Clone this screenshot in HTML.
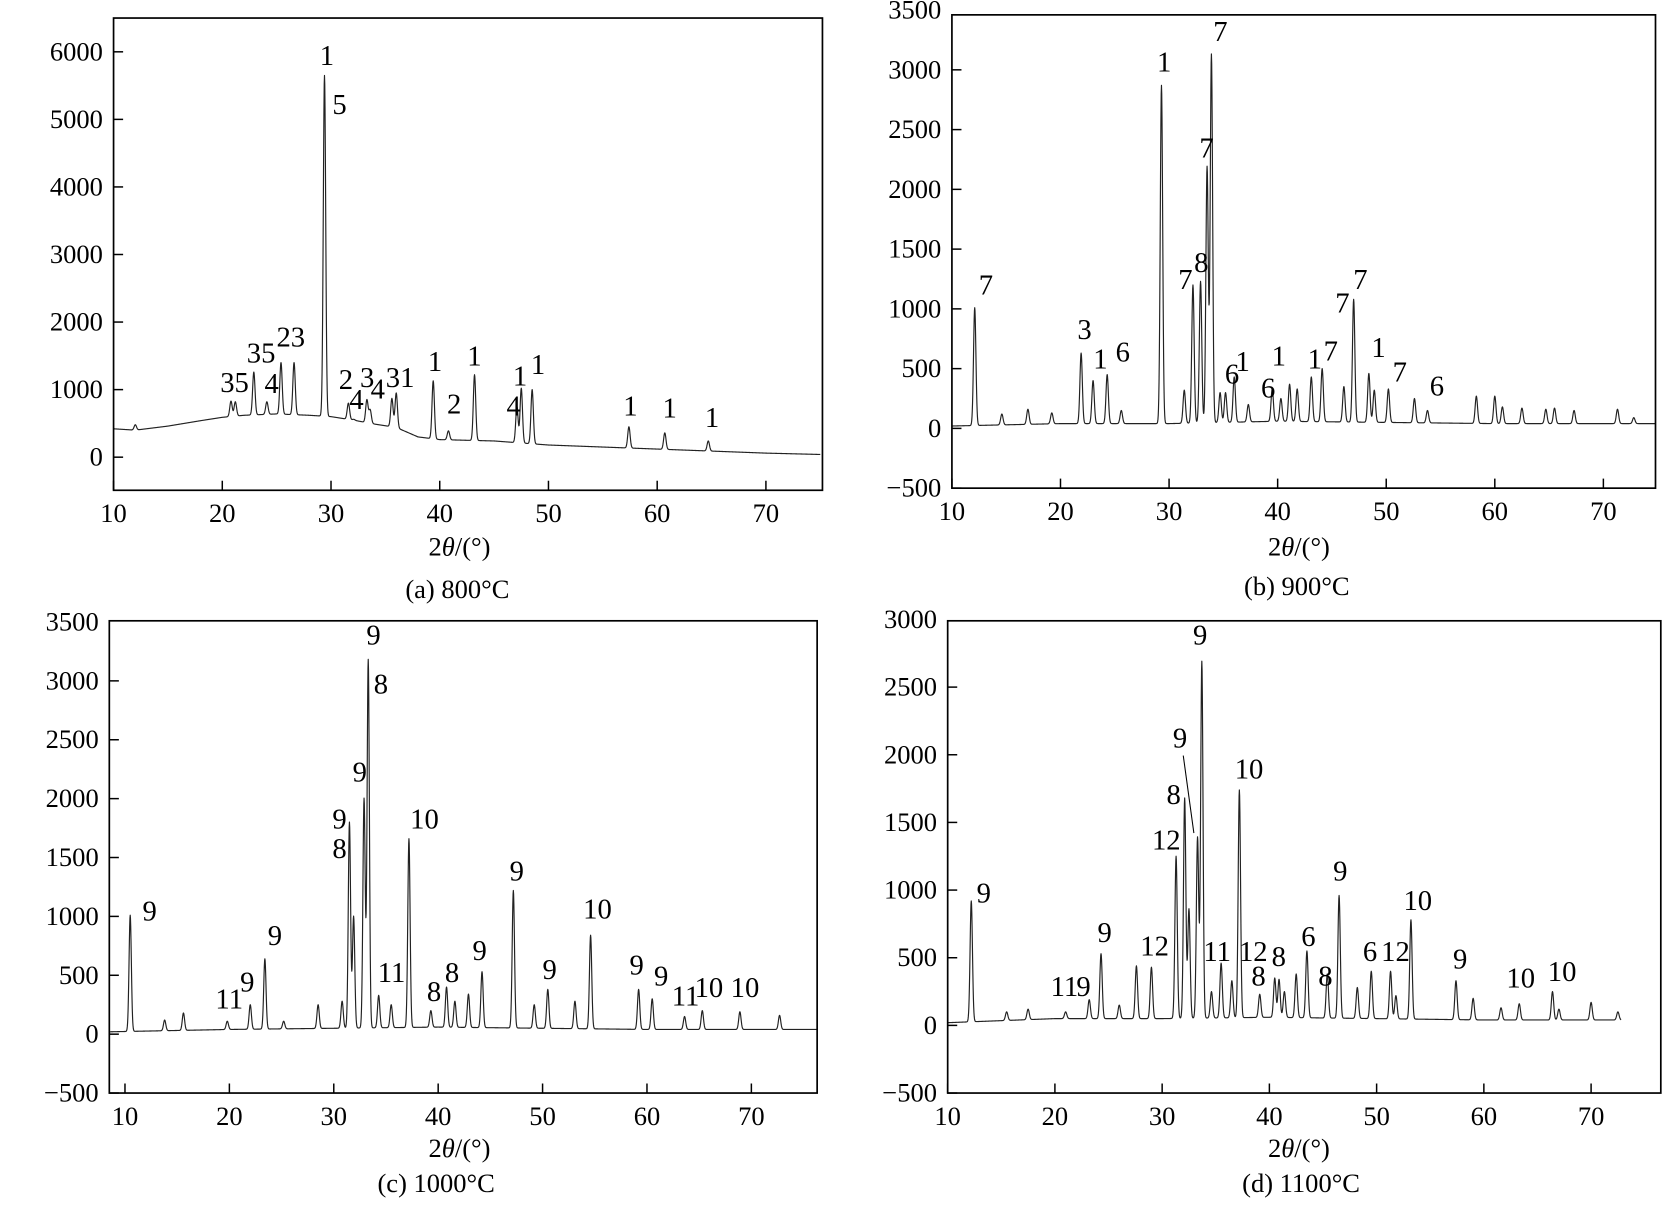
<!DOCTYPE html>
<html><head><meta charset="utf-8"><style>
html,body{margin:0;padding:0;background:#fff;}
svg{display:block;font-family:"Liberation Serif","Times New Roman",serif;}
svg text{font-family:"Liberation Serif","Times New Roman",serif;fill:#000;}
</style></head><body>
<svg id="fig" width="1664" height="1205" viewBox="0 0 1568 1135.5" font-family="Liberation Serif, serif" xmlns="http://www.w3.org/2000/svg"></svg>
<script>
// ---------- Panel (a) 800°C ----------
const aBaseX=[10,12,15,18,20,22,25,28,30,32,34,36,38,40,45,50,55,60,65,70,75];
const aBaseY=[420,400,460,540,590,620,640,620,600,550,490,440,300,260,240,180,150,120,90,60,40];
const aPeakX=[12.0,20.8,21.2,22.9,24.1,25.4,26.6,29.4,31.6,32.1,33.3,33.6,35.6,36.0,39.4,40.8,43.2,47.1,47.5,48.5,57.4,60.7,64.7];
const aPeakY=[480,830,820,1260,820,1400,1400,5650,800,560,850,700,870,950,1130,390,1220,750,1020,1000,450,360,240];
// ---------- Panel (b) 900°C ----------
const bBaseX=[10,20,30,40,50,60,75];
const bBaseY=[20,40,40,60,50,40,40];
const bPeakX=[12.1,14.6,17.0,19.2,21.9,23.0,24.3,25.6,29.3,31.4,32.2,32.9,33.5,33.9,34.7,35.2,36.0,37.3,39.5,40.3,41.1,41.8,43.1,44.1,46.1,47.0,48.4,48.9,50.2,52.6,53.8,58.3,60.0,60.7,62.5,64.7,65.5,67.3,71.3,72.8];
const bPeakY=[1010,120,160,130,630,400,450,150,2870,320,1200,1230,2190,3130,300,300,430,200,330,250,370,330,430,500,350,1080,460,320,330,250,150,270,270,180,170,160,170,150,160,90];
// ---------- Panel (c) 1000°C ----------
const cBaseX=[8.5,20,30,40,50,60,76];
const cBaseY=[20,40,50,60,50,40,40];
const cPeakX=[10.5,13.8,15.6,19.8,22.0,23.4,25.2,28.5,30.8,31.5,31.9,32.9,33.3,34.3,35.5,37.2,39.3,40.8,41.6,42.9,44.2,47.2,49.2,50.5,53.1,54.6,59.2,60.5,63.6,65.3,68.9,72.7];
const cPeakY=[1010,120,180,110,250,640,110,250,280,1800,1000,2000,3180,330,250,1660,200,400,280,340,530,1220,250,380,280,840,380,300,150,200,190,160];
// ---------- Panel (d) 1100°C ----------
const dBaseX=[10,20,30,40,50,60,72.8];
const dBaseY=[20,50,50,60,50,40,40];
const dPeakX=[12.2,15.5,17.5,21.0,23.2,24.3,26.0,27.6,29.0,31.3,32.1,32.5,33.3,33.7,34.6,35.5,36.5,37.2,39.1,40.5,40.9,41.4,42.5,43.5,45.4,46.5,48.2,49.5,51.3,51.8,53.2,57.4,59.0,61.6,63.3,66.4,67.0,70.0,72.5];
const dPeakY=[920,100,120,100,190,530,150,440,430,1250,1680,860,1390,2690,250,460,330,1740,230,350,340,250,380,550,380,960,280,400,400,220,780,330,200,130,160,250,120,170,100];
// tick labels
const aYTicks=[0,1000,2000,3000,4000,5000,6000];
const bYTicks=[-500,0,500,1000,1500,2000,2500,3000,3500];
const cYTicks=[-500,0,500,1000,1500,2000,2500,3000,3500];
const dYTicks=[-500,0,500,1000,1500,2000,2500,3000];
const xTicks=[10,20,30,40,50,60,70];

const NS="http://www.w3.org/2000/svg";
const svg=document.getElementById('fig');
const FF='"Liberation Serif", serif';
function mk(tag,attrs,parent){const e=document.createElementNS(NS,tag);for(const k in attrs)e.setAttribute(k,attrs[k]);(parent||svg).appendChild(e);return e;}
function interp(xs,ys,x){if(x<=xs[0])return ys[0];for(let i=1;i<xs.length;i++){if(x<=xs[i]){const t=(x-xs[i-1])/(xs[i]-xs[i-1]);return ys[i-1]+t*(ys[i]-ys[i-1]);}}return ys[ys.length-1];}

const panels=[
 {id:'a',L:107,R:775,T:17,B:462,x0:10,x1:75.2,y0:-490,y1:6500,dx0:10,dx1:75,bx:aBaseX,by:aBaseY,px:aPeakX,py:aPeakY,yt:aYTicks},
 {id:'b',L:897,R:1560,T:14,B:460,x0:10,x1:74.8,y0:-500,y1:3460,dx0:10,dx1:74.8,bx:bBaseX,by:bBaseY,px:bPeakX,py:bPeakY,yt:bYTicks},
 {id:'c',L:103,R:770,T:585,B:1030,x0:8.5,x1:76.3,y0:-500,y1:3510,dx0:8.5,dx1:76.3,bx:cBaseX,by:cBaseY,px:cPeakX,py:cPeakY,yt:cYTicks},
 {id:'d',L:893,R:1565,T:585,B:1030,x0:10,x1:76.5,y0:-500,y1:2990,dx0:10,dx1:72.8,bx:dBaseX,by:dBaseY,px:dPeakX,py:dPeakY,yt:dYTicks}
];

panels.forEach(p=>{
 const g=mk('g',{});
 
 
 const X=v=>p.L+(v-p.x0)/(p.x1-p.x0)*(p.R-p.L);
 const Y=v=>p.B-(v-p.y0)/(p.y1-p.y0)*(p.B-p.T);
 let d='';
 for(let x=p.dx0;x<=p.dx1+1e-9;x+=0.025){
   let y=interp(p.bx,p.by,x);
   for(let i=0;i<p.px.length;i++){
     const h=p.py[i]-interp(p.bx,p.by,p.px[i]);
     const w=0.11;
     y+=h*Math.exp(-((x-p.px[i])*(x-p.px[i]))/(2*w*w));
   }
   d+=(d?'L':'M')+X(x).toFixed(2)+','+Y(y).toFixed(2);
 }
 const path=mk('path',{d:d,fill:'none',stroke:'#222','stroke-width':1.1,'stroke-linejoin':'round'},g);
 
 
 const fr=mk('rect',{x:p.L,y:p.T,width:p.R-p.L,height:p.B-p.T,fill:'none',stroke:'#000','stroke-width':1.6},g);
 
 
 p.yt.forEach(v=>{
   const yy=Y(v);
   if(yy>p.T+3) mk('line',{x1:p.L,x2:p.L+9,y1:yy,y2:yy,stroke:'#000','stroke-width':1.4},g);
   const t=mk('text',{x:p.L-10,y:yy+8,'text-anchor':'end','font-size':25,'font-family':FF},g);
   t.textContent=v<0?'\u2212'+(-v):String(v);
   
   
 });
 xTicks.forEach(v=>{
   const xx=X(v);
   mk('line',{x1:xx,x2:xx,y1:p.B,y2:p.B-9,stroke:'#000','stroke-width':1.4},g);
   const t=mk('text',{x:xx,y:p.B+30,'text-anchor':'middle','font-size':25,'font-family':FF},g);
   t.textContent=String(v);
   
   
 });
});

function lab(txt,x,y,name,size){const t=mk('text',{x:x,y:y,'text-anchor':'middle','dominant-baseline':'central','font-size':size||27,'font-family':FF});t.textContent=txt;return t;}
[[433,515],[1224,515],[433,1082],[1224,1082]].forEach(c=>{
 const t=mk('text',{x:c[0],y:c[1],'text-anchor':'middle','dominant-baseline':'central','font-size':25,'font-family':FF});
 t.innerHTML='2<tspan font-style="italic">θ</tspan>/(°)';
 
 
});
lab('(a) 800°C',431,555,'caption-a',25);
lab('(b) 900°C',1222,552,'caption-b',25);
lab('(c) 1000°C',411,1115,'caption-c',25);
lab('(d) 1100°C',1226,1115,'caption-d',25);

const peakLabels=[
 ['1',308,53],['5',320,99],['35',221,361],['35',246,333],['4',256,362],['23',274,318],['2',326,358],['4',336,377],['3',346,356],['4',356,367],['31',377,356],['1',410,341],['2',428,381],['1',447,336],['4',484,383],['1',490,355],['1',507,344],['1',594,383],['1',631,385],['1',671,394],
 ['7',929,269],['3',1022,311],['1',1037,339],['6',1058,332],['1',1097,59],['7',1150,30],['7',1137,140],['7',1117,264],['8',1132,248],['6',1161,353],['1',1171,341],['6',1195,366],['1',1205,336],['1',1239,339],['7',1254,331],['7',1265,286],['7',1282,264],['1',1299,328],['7',1319,351],['6',1354,364],
 ['9',141,859],['9',352,599],['8',359,645],['9',339,728],['9',320,772],['8',320,800],['10',400,772],['11',369,917],['11',216,942],['9',233,926],['9',259,882],['8',409,935],['8',426,917],['9',452,896],['9',487,821],['9',518,914],['10',563,857],['9',600,910],['9',623,920],['11',646,939],['10',668,931],['10',702,931],
 ['9',927,842],['9',1131,599],['9',1112,696],['8',1106,749],['12',1099,792],['10',1177,725],['11',1003,930],['9',1021,930],['9',1041,879],['12',1088,892],['11',1147,897],['12',1181,897],['8',1186,920],['8',1205,902],['6',1233,883],['8',1249,920],['9',1263,821],['6',1291,897],['12',1315,897],['10',1336,849],['9',1376,904],['10',1433,922],['10',1472,916]
];
peakLabels.forEach(l=>lab(l[0],l[1],l[2],'peak-label'));
const ld=mk('line',{x1:1115,y1:712,x2:1125,y2:785,stroke:'#000','stroke-width':1});


</script>
</body></html>
